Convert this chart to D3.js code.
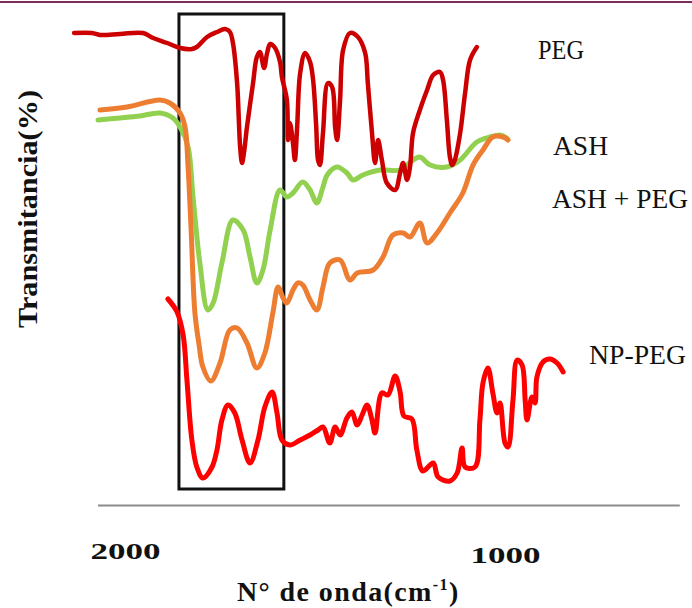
<!DOCTYPE html>
<html>
<head>
<meta charset="utf-8">
<script src="https://cdn.jsdelivr.net/npm/d3@7"></script>
<style>
  body { margin: 0; background: #fff; }
  text { font-family: "Liberation Serif", "DejaVu Serif", serif; fill: #111; }
</style>
</head>
<body>
<div id="chart-area"></div>
<script>
// wavenumber (cm-1), transmittance (%)
var peg = [[2134,94.4],[2087,94.4],[2066,94],[2013,94.2],[1953,94.4],[1926,93.4],[1889,92.4],[1855,91.4],[1824,91.2],[1811,91.6],
  [1784,93.6],[1758,94.6],[1737,95.2],[1724,94.6],[1716,92.4],[1705,84.4],[1697,71.6],[1692,68.4],[1687,70.4],[1679,75.6],
  [1663,84.4],[1653,89.6],[1645,90.6],[1634,87.4],[1626,90.4],[1618,92.2],[1605,91.4],[1592,88.6],[1587,85.6],[1574,81],
  [1571,73],[1566,76.4],[1558,72.4],[1553,69],[1547,75.6],[1539,86.4],[1526,90.4],[1513,88.6],[1505,85],[1497,76],
  [1492,69],[1487,68],[1479,74.4],[1466,84.4],[1455,83.6],[1447,75.6],[1442,73],[1434,81],[1426,91],[1408,94.4],
  [1387,93.6],[1368,90.4],[1361,84.4],[1350,74.4],[1342,68.4],[1334,73],[1324,69],[1311,64.4],[1289,63],[1276,66.4],
  [1268,68.4],[1258,65],[1250,67.6],[1242,74.4],[1224,79],[1205,83],[1189,86],[1171,86.6],[1163,85],[1153,77],
  [1145,69.6],[1139,68],[1132,69],[1118,74.4],[1105,82.4],[1092,89],[1074,91.6]];

var ash = [[2071,77],[2013,77.4],[1961,77.8],[1908,78.4],[1874,77.4],[1855,75.6],[1834,71.6],[1821,61.6],[1803,48.4],[1782,39],
  [1768,40.4],[1745,48.4],[1716,57],[1689,55],[1671,49.6],[1653,44.4],[1637,47],[1618,55],[1592,63],[1574,61.6],
  [1558,62.4],[1532,64.6],[1513,63],[1495,60.4],[1479,63.6],[1468,66],[1442,67.6],[1416,66.4],[1400,65],[1374,66],
  [1329,67],[1276,67],[1242,69],[1224,69.6],[1197,68],[1153,67.6],[1118,69],[1074,72.6],[1039,73.6],[1013,74],[995,73.4]];

var ashPeg = [[2066,79],[1995,79.6],[1908,81],[1882,80.4],[1855,78.4],[1842,75.6],[1834,67.6],[1826,55],[1816,38.4],[1805,32],
  [1795,27.6],[1774,24.8],[1750,28.4],[1724,35],[1705,35.4],[1679,32.4],[1653,27.4],[1632,30.4],[1611,38.4],[1597,43.6],
  [1584,41.4],[1574,40.4],[1558,43],[1545,44.4],[1532,44],[1513,41],[1495,39],[1479,43.6],[1461,48.4],[1434,49],
  [1408,45],[1389,46.4],[1347,47],[1321,49.6],[1295,54],[1268,54.4],[1250,53.6],[1224,56.4],[1205,52.4],[1179,54.4],
  [1145,58.4],[1111,62.4],[1084,68],[1058,71],[1032,73.6],[1005,73.6],[992,73]];

var npPeg = [[1887,41.2],[1863,38.6],[1847,34],[1837,25],[1824,13],[1811,7.6],[1795,5.4],[1771,7.6],[1758,11],[1745,17],
  [1729,20],[1711,18.4],[1692,13],[1671,8.4],[1650,13],[1632,19.6],[1613,22.6],[1600,18.4],[1587,13],[1566,12],
  [1539,13],[1513,14],[1492,15],[1479,15.6],[1461,12.4],[1447,15.6],[1434,14],[1416,17.4],[1403,18.6],[1389,16],
  [1376,18],[1363,20],[1350,17],[1342,14.4],[1324,22.4],[1308,22],[1289,25.8],[1276,22.6],[1266,17.8],[1245,17.2],
  [1232,11],[1216,6.8],[1189,8.4],[1176,5.6],[1145,4.8],[1126,6.4],[1113,11.4],[1105,7.6],[1079,7.6],[1066,17],
  [1058,24.4],[1045,27.4],[1032,22.4],[1021,18.4],[1013,20.4],[1000,12.4],[992,11.6],[979,21],[968,29],[955,28],
  [947,21],[942,17],[929,21.6],[921,20.4],[916,25.6],[900,28.6],[882,29.2],[863,28.4],[847,26.6]];

var seriesNames = ["PEG", "ASH", "ASH + PEG", "NP-PEG"];
var tickValues = [2000, 1000];
var axisExtent = [2071, 540];
var boxWave = [1858, 1582];
var boxT = [3.2, 98.2];

var width = 692, height = 608;

var svg = d3.select("#chart-area")
  .append("svg")
    .attr("width", width)
    .attr("height", height);

var x = d3.scaleLinear().domain([2000, 1000]).range([125, 505]);
var y = d3.scaleLinear().domain([0, 100]).range([505, 5]);

// top border
svg.append("line")
  .attr("x1", 0).attr("x2", width)
  .attr("y1", 2).attr("y2", 2)
  .attr("stroke", "#7b2d5b")
  .attr("stroke-width", 2);

// axis line
svg.append("line")
  .attr("x1", x(axisExtent[0])).attr("x2", x(axisExtent[1]))
  .attr("y1", y(0) + 0.5).attr("y2", y(0) + 0.5)
  .attr("stroke", "#8c8c8c")
  .attr("stroke-width", 2);

var xAxis = d3.axisBottom(x).tickValues(tickValues).tickSize(0).tickPadding(0).tickFormat(d3.format("d"));
var ax = svg.append("g")
  .attr("transform", "translate(0," + y(0) + ")")
  .call(xAxis);
ax.select(".domain").remove();
ax.selectAll("text")
  .attr("y", (d) => d === 1000 ? 58 : 54)
  .attr("dy", 0)
  .attr("font-size", "24px")
  .attr("font-weight", "bold")
  .attr("font-family", "Liberation Serif, serif")
  .attr("fill", "#111")
  .attr("textLength", 70)
  .attr("lengthAdjust", "spacingAndGlyphs");

// highlight box
svg.append("rect")
  .attr("x", x(boxWave[0]))
  .attr("y", y(boxT[1]))
  .attr("width", x(boxWave[1]) - x(boxWave[0]))
  .attr("height", y(boxT[0]) - y(boxT[1]))
  .attr("fill", "none")
  .attr("stroke", "#111")
  .attr("stroke-width", 3);

var line = d3.line()
  .x((d) => x(d[0]))
  .y((d) => y(d[1]))
  .curve(d3.curveCatmullRom.alpha(0.5));

var curves = [
  {data: ash, color: "#92d050", w: 5},
  {data: ashPeg, color: "#ed7d31", w: 5},
  {data: peg, color: "#cc0000", w: 4.5},
  {data: npPeg, color: "#ff0000", w: 5}
];

svg.selectAll("path.curve")
  .data(curves)
  .enter()
  .append("path")
    .attr("class", "curve")
    .attr("d", (d) => line(d.data))
    .attr("fill", "none")
    .attr("stroke", (d) => d.color)
    .attr("stroke-width", (d) => d.w)
    .attr("stroke-linejoin", "round")
    .attr("stroke-linecap", "round");

// series labels
var labelPos = [[538, 59, 46], [553, 155, 55], [552, 208, 136], [589, 364, 97]];
svg.selectAll("text.series")
  .data(seriesNames)
  .enter()
  .append("text")
    .attr("class", "series")
    .attr("x", (d, i) => labelPos[i][0])
    .attr("y", (d, i) => labelPos[i][1])
    .attr("font-size", "27px")
    .attr("textLength", (d, i) => labelPos[i][2])
    .attr("lengthAdjust", "spacingAndGlyphs")
    .text((d) => d);

// axis titles
var xt = svg.append("text")
  .attr("x", 237)
  .attr("y", 601)
  .attr("font-size", "28px")
  .attr("letter-spacing", "1.4px")
  .attr("font-weight", "bold");
xt.append("tspan").text("N° de onda(cm");
xt.append("tspan").attr("font-size", "16px").attr("dy", -11).text("-1");
xt.append("tspan").attr("dy", 11).text(")");

svg.append("text")
  .attr("transform", "translate(37,209) rotate(-90)")
  .attr("text-anchor", "middle")
  .attr("font-size", "27px")
  .attr("font-weight", "bold")
  .attr("textLength", 238)
  .attr("lengthAdjust", "spacingAndGlyphs")
  .text("Transmitancia(%)");
</script>
</body>
</html>
